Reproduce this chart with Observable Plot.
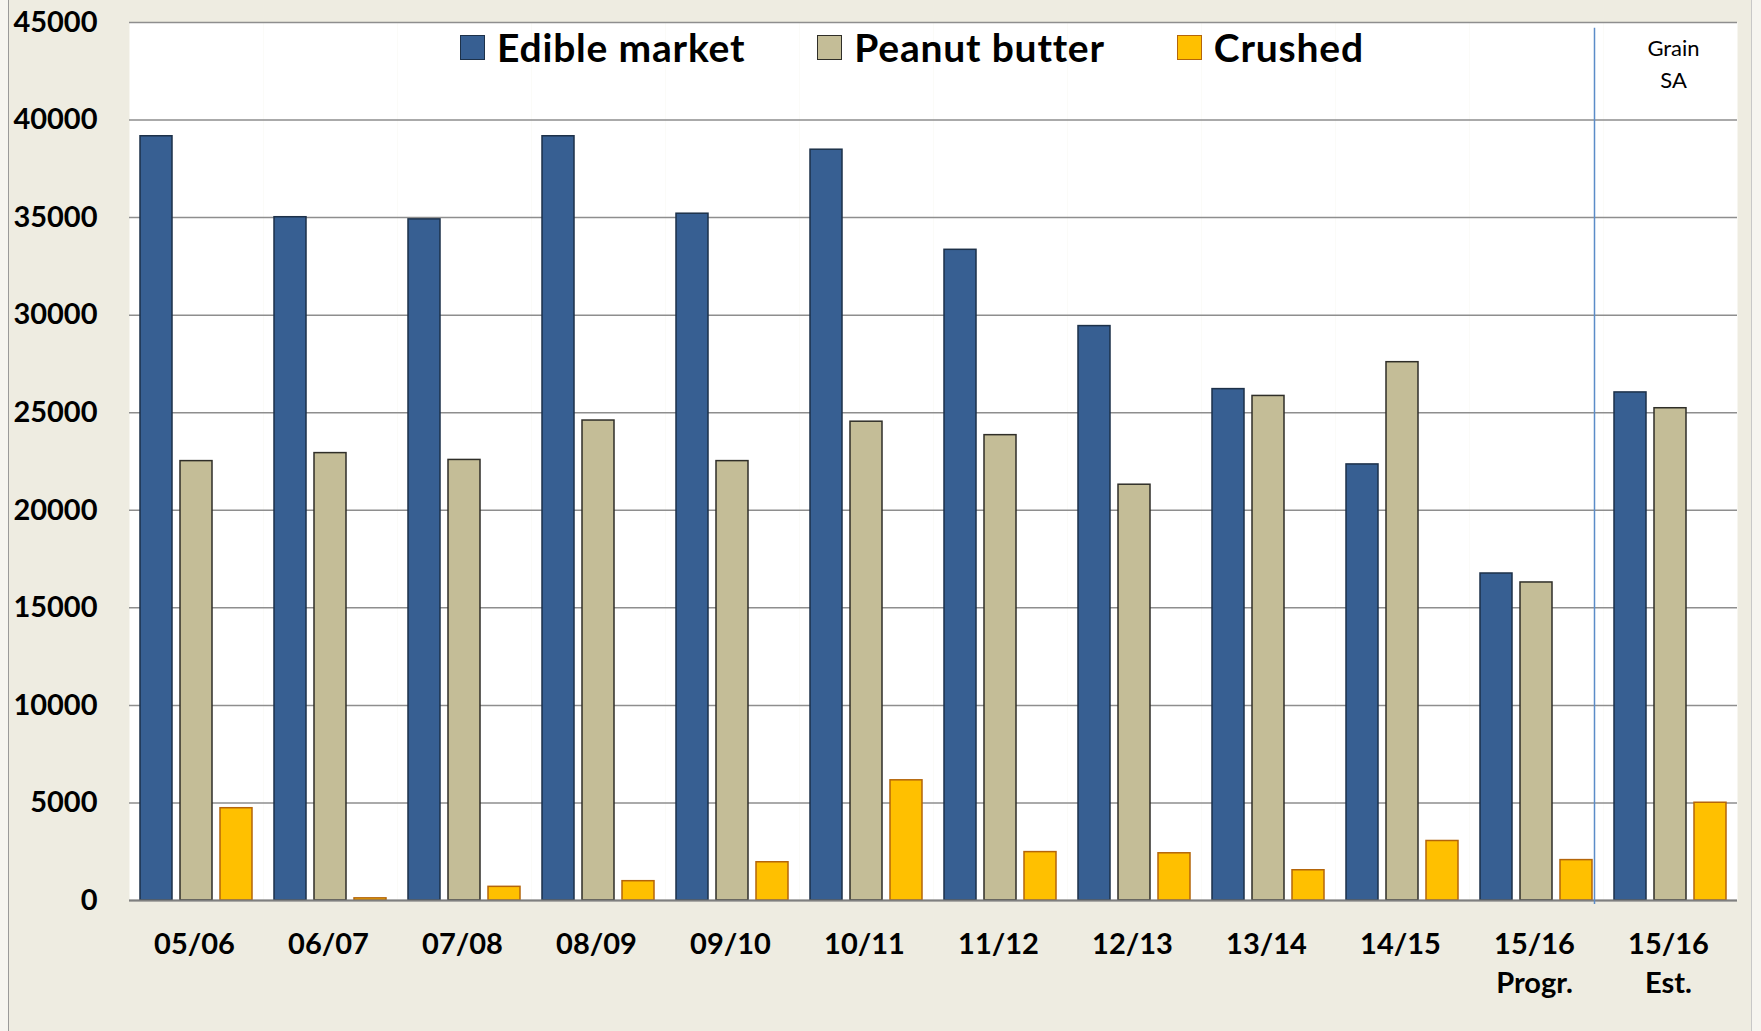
<!DOCTYPE html>
<html><head><meta charset="utf-8">
<script src="https://cdn.jsdelivr.net/npm/d3@7"></script>
<script src="https://cdn.jsdelivr.net/npm/@observablehq/plot@0.6"></script>
<style>
html,body{margin:0;padding:0;background:#F6F5F0;}
#wrap{position:relative;width:1761px;height:1031px;overflow:hidden;font-family:Lato,sans-serif;}
#bg{position:absolute;left:8px;top:0;width:1744px;height:1031px;background:#EEECE1;border-left:1.5px solid #9a9a9a;border-right:1.5px solid #c8c8c8;box-sizing:border-box;}
#chart{position:absolute;left:0;top:0;}
#legend{position:absolute;left:460px;top:28px;display:flex;gap:72px;font-weight:bold;font-size:39px;letter-spacing:0.8px;color:#000;line-height:1;}
.item{display:flex;align-items:center;gap:12px;}
.sw{width:25px;height:25px;border:1.5px solid;box-sizing:border-box;}
</style></head><body>
<div id="wrap"><div id="bg"></div><div id="chart"></div><div id="legend"></div></div>
<script>
const categories = ["05/06","06/07","07/08","08/09","09/10","10/11","11/12","12/13","13/14","14/15","15/16 Progr.","15/16 Est."];
const tickLabels = ["05/06","06/07","07/08","08/09","09/10","10/11","11/12","12/13","13/14","14/15","15/16\nProgr.","15/16\nEst."];
const seriesNames = ["Edible market","Peanut butter","Crushed"];
const edibleMarket = [39170,35020,34910,39170,35200,38480,33350,29440,26210,22350,16760,26040];
const peanutButter = [22520,22930,22580,24600,22520,24540,23850,21310,25860,27590,16300,25230];
const crushed = [4730,110,700,990,1960,6160,2480,2420,1550,3050,2070,5010];
const yTicks = [0,5000,10000,15000,20000,25000,30000,35000,40000,45000];
const fills = ["#375F92","#C4BD97","#FFC000"];
const strokes = ["#1D3149","#2F2E28","#B4650A"];

const seriesValues = [edibleMarket, peanutButter, crushed];
const rows = seriesNames.map((s, j) => categories.map((c, i) => ({cat: c, series: s, value: seriesValues[j][i]})));
const labelRows = categories.map((c, i) => ({cat: c, label: tickLabels[i]}));

const chart = Plot.plot({
  width: 1761,
  height: 1031,
  marginTop: 22,
  marginBottom: 131,
  marginLeft: 127,
  marginRight: 22,
  style: {fontFamily: "Lato, sans-serif", fontSize: "29px", fontWeight: "bold", background: "transparent", color: "#000", overflow: "visible"},
  fx: {domain: categories, padding: 0, axis: null, label: null},
  x: {domain: seriesNames, paddingInner: 0.19, paddingOuter: 0.27, axis: null},
  y: {domain: [0, 45000], ticks: yTicks, tickFormat: d => String(d), tickSize: 0, tickPadding: 32, label: null},
  marks: [
    Plot.frame({fill: "white", stroke: "none"}),
    Plot.ruleY(yTicks, {stroke: "#8E8E8E", strokeWidth: 1.5}),
    ...rows.map((r, j) => Plot.barY(r, {fx: "cat", x: "series", y: "value", fill: fills[j], stroke: strokes[j], strokeWidth: 1.5})),
    Plot.ruleY([0], {stroke: "#7F7F7F", strokeWidth: 2}),
    Plot.ruleX([{cat: "15/16 Progr.", series: "Crushed"}], {fx: "cat", x: "series", y1: -200, y2: 44700, stroke: "#5B8CC8", strokeWidth: 1.5, dx: 18}),
    Plot.text([{cat: "15/16 Est.", label: "Grain\nSA"}], {fx: "cat", text: "label", frameAnchor: "top", lineAnchor: "top", dy: 11, dx: 3, fontSize: 22, fontWeight: "normal", lineHeight: 1.45, fill: "#000"}),
    Plot.text(labelRows, {fx: "cat", text: "label", frameAnchor: "bottom", lineAnchor: "top", dy: 25, dx: -2, fontSize: 29, fontWeight: "bold", lineHeight: 1.36, fill: "#000"})
  ]
});
document.getElementById("chart").appendChild(chart);

const legend = document.getElementById("legend");
seriesNames.forEach((s, j) => {
  const item = document.createElement("div");
  item.className = "item";
  const sw = document.createElement("div");
  sw.className = "sw";
  sw.style.background = fills[j];
  sw.style.borderColor = strokes[j];
  const t = document.createElement("span");
  t.textContent = s;
  item.appendChild(sw);
  item.appendChild(t);
  legend.appendChild(item);
});
</script>
</body></html>
